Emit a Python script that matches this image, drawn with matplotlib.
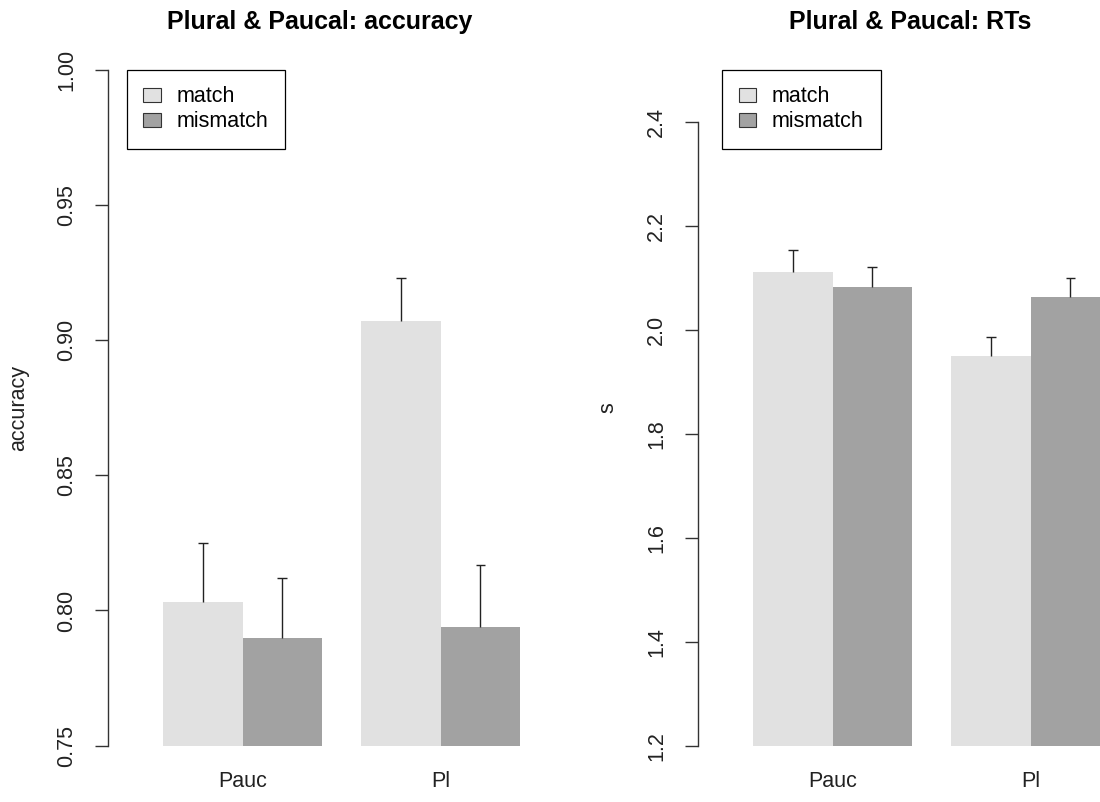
import matplotlib.pyplot as plt
import numpy as np
from matplotlib.patches import Patch

plt.rcParams['font.family'] = ['Liberation Sans', 'DejaVu Sans']

# data
groups = ['Pauc', 'Pl']
conditions = ['match', 'mismatch']

acc_match = [0.803, 0.907]
acc_mismatch = [0.790, 0.794]
acc_match_se = [0.022, 0.016]
acc_mismatch_se = [0.022, 0.023]

rt_match = [2.111, 1.949]
rt_mismatch = [2.083, 2.062]
rt_match_se = [0.042, 0.036]
rt_mismatch_se = [0.038, 0.038]

acc_ticks = [0.75, 0.80, 0.85, 0.90, 0.95, 1.00]
rt_ticks = [1.2, 1.4, 1.6, 1.8, 2.0, 2.2, 2.4]

col_match = '#e1e1e1'
col_mismatch = '#a2a2a2'
ink = '#222222'

W, H = 1100, 802
fig = plt.figure(figsize=(W / 100, H / 100), dpi=100)

# plot regions in pixels (second panel is cut off at the right edge like the original)
TOP, BOTTOM = 69.7, 745.7
LEFT0, RIGHT0 = 107.7, 532.0
SHIFT = 590.0
axw = RIGHT0 - LEFT0


def make_axes(left):
    return fig.add_axes([left / W, 1 - BOTTOM / H, axw / W, (BOTTOM - TOP) / H])


def panel(ax, match, mismatch, match_se, mismatch_se, ylim, yticks, fmt,
          ylabel, title, legend_dx):
    x = np.array([0.5, 3.0])
    ax.bar(x, match, width=1.0, color=col_match, linewidth=0)
    ax.bar(x + 1, mismatch, width=1.0, color=col_mismatch, linewidth=0)

    # upper-only error bars, like arrows(..., angle=90) in R
    for xs, vals, se in [(x, match, match_se), (x + 1, mismatch, mismatch_se)]:
        vals = np.array(vals)
        tops = vals + np.array(se)
        ax.vlines(xs, vals, tops, color=ink, lw=1.0)
        ax.hlines(tops, xs - 0.06, xs + 0.06, color=ink, lw=1.0)

    ax.set_xlim(-0.701, 4.651)
    ax.set_ylim(*ylim)

    for s in ['top', 'right', 'bottom']:
        ax.spines[s].set_visible(False)
    ax.spines['left'].set_bounds(yticks[0], yticks[-1])
    ax.spines['left'].set_color('#333333')
    ax.spines['left'].set_linewidth(1.0)

    ax.set_yticks(yticks)
    ax.set_yticklabels([fmt % t for t in yticks], rotation=90, va='center')
    ax.tick_params(axis='y', length=9.1, width=1.0, color='#333333',
                   pad=13, labelsize=15.5, labelcolor=ink)

    ax.set_xticks(x + 0.5)
    ax.set_xticklabels(groups)
    ax.tick_params(axis='x', length=0, pad=18, labelsize=15.5, labelcolor=ink)

    ax.text((18.3 - LEFT0) / axw, 0.5, ylabel, transform=ax.transAxes,
            rotation=90, ha='center', va='center', fontsize=15.5, color=ink)
    ax.set_title(title, fontsize=18, fontweight='bold', pad=29.5)

    handles = [Patch(facecolor=col_match, edgecolor='#333333', lw=0.8),
               Patch(facecolor=col_mismatch, edgecolor='#333333', lw=0.8)]
    leg = ax.legend(handles, conditions, loc='upper left',
                    bbox_to_anchor=(legend_dx / axw, 1.0), borderaxespad=0,
                    fancybox=False, edgecolor='black', framealpha=1,
                    fontsize=15.5, handlelength=0.8, handleheight=0.6,
                    handletextpad=0.75, borderpad=0.78, labelspacing=0.18)
    leg.get_frame().set_linewidth(0.9)


ax1 = make_axes(LEFT0)
panel(ax1, acc_match, acc_mismatch, acc_match_se, acc_mismatch_se,
      (0.75, 1.0), acc_ticks, '%.2f', 'accuracy',
      'Plural & Paucal: accuracy', 18.9)

ax2 = make_axes(LEFT0 + SHIFT)
panel(ax2, rt_match, rt_mismatch, rt_match_se, rt_mismatch_se,
      (1.2, 2.5), rt_ticks, '%.1f', 's',
      'Plural & Paucal: RTs', 24.2)

fig.savefig('out.png', dpi=100)
